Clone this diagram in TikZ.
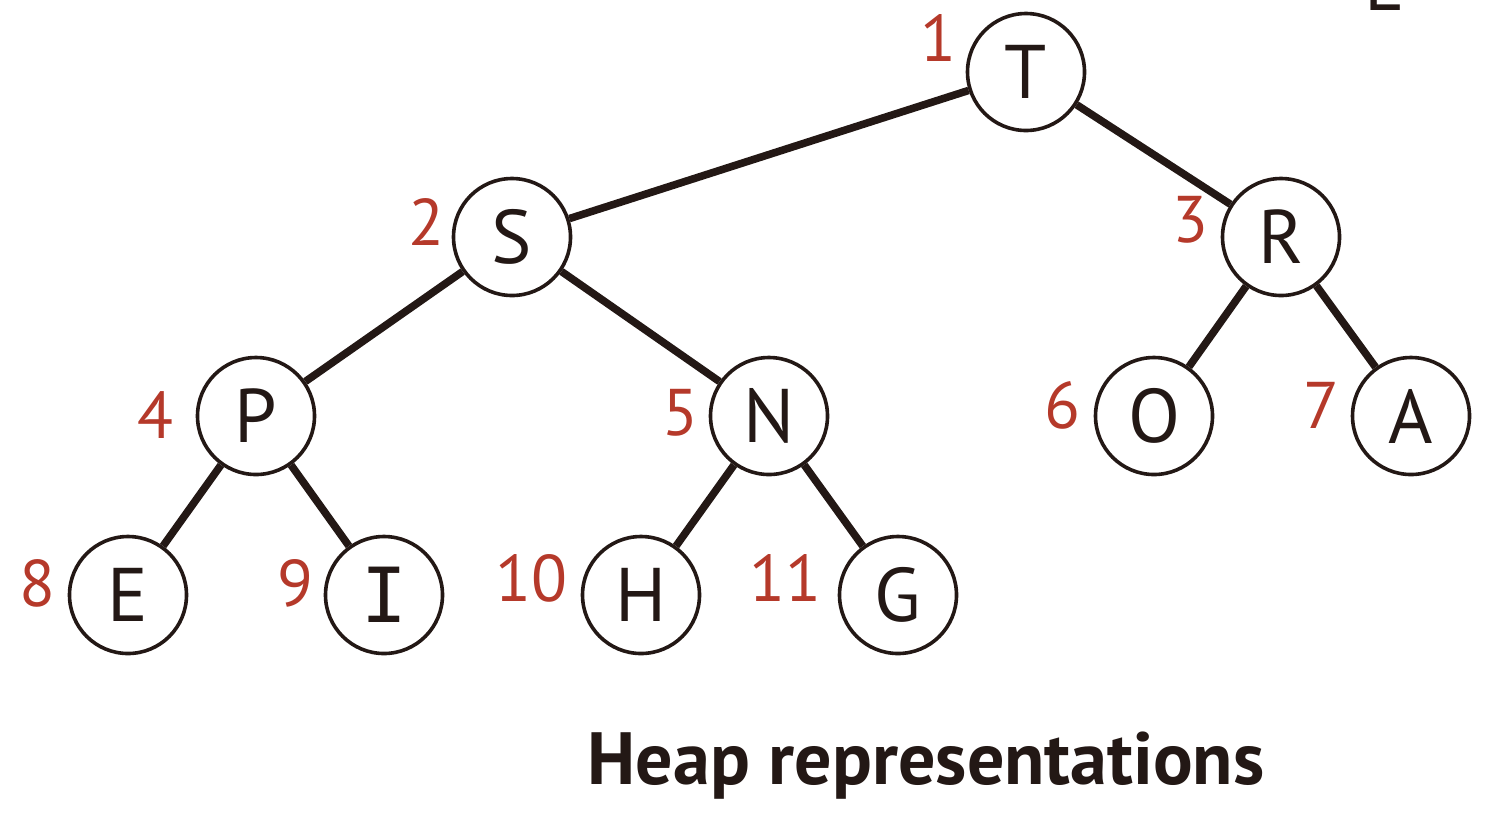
\documentclass[tikz,border=0pt]{standalone}
\usepackage{fontspec}
\setmainfont{PT Sans}
\newfontfamily\monoI{DejaVu Sans Mono}
\definecolor{ink}{HTML}{231815}
\definecolor{idx}{HTML}{B5392A}
\begin{document}
\begin{tikzpicture}[x=0.5pt,y=-0.5pt,
  heapnode/.style={circle,draw=ink,line width=1.8pt,minimum size=58.5pt,inner sep=0pt,
    text=ink,font=\fontsize{38}{38}\selectfont},
  idxlabel/.style={text=idx,inner sep=0pt,font=\fontsize{33}{33}\selectfont},
  link/.style={draw=ink,line width=3.8pt}]
\useasboundingbox (0,0) rectangle (1498,816);
\begin{scope}
\clip (0,0) rectangle (1498,816);
\node[anchor=base west,inner sep=0pt,text=ink,font=\fontsize{38}{38}\selectfont] (cut) at (1364,10) {E};
\end{scope}
\node[heapnode] (T) at (1026,72) {T};
\node[heapnode] (S) at (512,237) {S};
\node[heapnode] (R) at (1281,237) {R};
\node[heapnode] (P) at (256,416) {P};
\node[heapnode] (N) at (769,416) {N};
\node[heapnode] (O) at (1154,416) {O};
\node[heapnode] (A) at (1411,416) {A};
\node[heapnode] (E) at (128,595) {E};
\node[heapnode] (I) at (384,595) {\monoI I};
\node[heapnode] (H) at (641,595) {H};
\node[heapnode] (G) at (898,595) {G};
\draw[link] (T) -- (S);
\draw[link] (T) -- (R);
\draw[link] (S) -- (P);
\draw[link] (S) -- (N);
\draw[link] (R) -- (O);
\draw[link] (R) -- (A);
\draw[link] (P) -- (E);
\draw[link] (P) -- (I);
\draw[link] (N) -- (H);
\draw[link] (N) -- (G);
\node[idxlabel] (l1) at (938,38) {1};
\node[idxlabel] (l2) at (426,222) {2};
\node[idxlabel] (l3) at (1190,220) {3};
\node[idxlabel] (l4) at (155,415) {4};
\node[idxlabel] (l5) at (680,413) {5};
\node[idxlabel] (l6) at (1062,405) {6};
\node[idxlabel] (l7) at (1321,405) {7};
\node[idxlabel] (l8) at (37,583) {8};
\node[idxlabel] (l9) at (295,583) {9};
\node[idxlabel] (l10) at (531,578) {10};
\node[idxlabel] (l11) at (785,578) {11};
\node[text=ink,inner sep=0pt,font=\fontsize{37}{37}\selectfont\bfseries] (title) at (926,766) {Heap representations};
\end{tikzpicture}
\end{document}
